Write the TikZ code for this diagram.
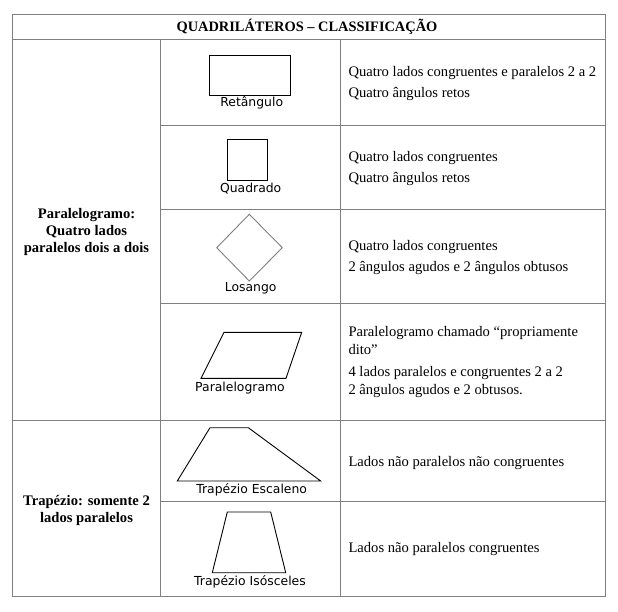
\documentclass[tikz,border=0pt]{standalone}
\usepackage{fontspec}
\setmainfont{Liberation Serif}
\newfontfamily\lblfont{DejaVu Sans}
\definecolor{gridgray}{HTML}{7F7F7F}
\begin{document}
\begin{tikzpicture}[x=1pt,y=-1pt,
  grid/.style={draw=gridgray,line width=1pt},
  shp/.style={draw=black,line width=0.9pt,line join=miter},
  shpgray/.style={draw=gridgray,line width=0.9pt},
  lbl/.style={font=\lblfont\fontsize{12.4}{14}\selectfont,inner sep=0pt,anchor=center},
  desc/.style={font=\fontsize{14.6}{17}\selectfont,inner sep=0pt,anchor=west},
  cat/.style={font=\bfseries\fontsize{14.6}{17}\selectfont,inner sep=0pt,align=center,anchor=center},
  head/.style={font=\bfseries\fontsize{14.4}{16}\selectfont,inner sep=0pt,anchor=center}]
\useasboundingbox (0,0) rectangle (618,612);
% grid
\draw[grid] (12,14.3) rectangle (605,596.5);
\draw[grid] (12,39.5) -- (605,39.5);
\draw[grid] (160.7,39.5) -- (160.7,596.5);
\draw[grid] (340,39.5) -- (340,596.5);
\draw[grid] (160.7,125.5) -- (605,125.5);
\draw[grid] (160.7,209.5) -- (605,209.5);
\draw[grid] (160.7,303.5) -- (605,303.5);
\draw[grid] (12,420.7) -- (605,420.7);
\draw[grid] (160.7,501) -- (605,501);
% header
\node[head] (h) at (307,27) {QUADRILÁTEROS – CLASSIFICAÇÃO};
% categories
\node[cat] (c1) at (86.5,231.5) {Paralelogramo:\\Quatro lados\\paralelos dois a dois};
\node[cat] (c2) at (86.5,510) {Trapézio: somente 2\\lados paralelos};
% shapes
\draw[shp] (209.3,55.3) rectangle (290.3,95.3);
\node[lbl] (l1) at (251.7,102.7) {Retângulo};
\draw[shp] (227.3,139.3) rectangle (267.3,180);
\node[lbl] (l2) at (250.7,188.3) {Quadrado};
\draw[shpgray] (249.3,214.3) -- (282.3,247.7) -- (249.3,281) -- (216.7,247.7) -- cycle;
\node[lbl] (l3) at (250.7,288.3) {Losango};
\draw[shp] (224,332.3) -- (301.7,332.3) -- (286,378.3) -- (201,378.3) -- cycle;
\node[lbl] (l4) at (240,387.7) {Paralelogramo};
\draw[shp] (210,427.7) -- (248.3,427.7) -- (320.7,481) -- (177.3,481) -- cycle;
\node[lbl] (l5) at (251.7,490) {Trapézio Escaleno};
\draw[shp] (227.3,512) -- (270.7,512) -- (285.7,572.7) -- (212.3,572.7) -- cycle;
\node[lbl] (l6) at (250,582) {Trapézio Isósceles};
% descriptions
\node[desc] (d1a) at (348.3,73.3) {Quatro lados congruentes e paralelos 2 a 2};
\node[desc] (d1b) at (348.3,94) {Quatro ângulos retos};
\node[desc] (d2a) at (348.3,158.3) {Quatro lados congruentes};
\node[desc] (d2b) at (348.3,179) {Quatro ângulos retos};
\node[desc] (d3a) at (348.3,246.7) {Quatro lados congruentes};
\node[desc] (d3b) at (348.3,268.3) {2 ângulos agudos e 2 ângulos obtusos};
\node[desc] (d4a) at (348.3,333.3) {Paralelogramo chamado “propriamente};
\node[desc] (d4b) at (348.3,350) {dito”};
\node[desc] (d4c) at (348.3,372.7) {4 lados paralelos e congruentes 2 a 2};
\node[desc] (d4d) at (348.3,391) {2 ângulos agudos e 2 obtusos.};
\node[desc] (d5) at (348.3,463.3) {Lados não paralelos não congruentes};
\node[desc] (d6) at (348.3,549.3) {Lados não paralelos congruentes};
\end{tikzpicture}
\end{document}
